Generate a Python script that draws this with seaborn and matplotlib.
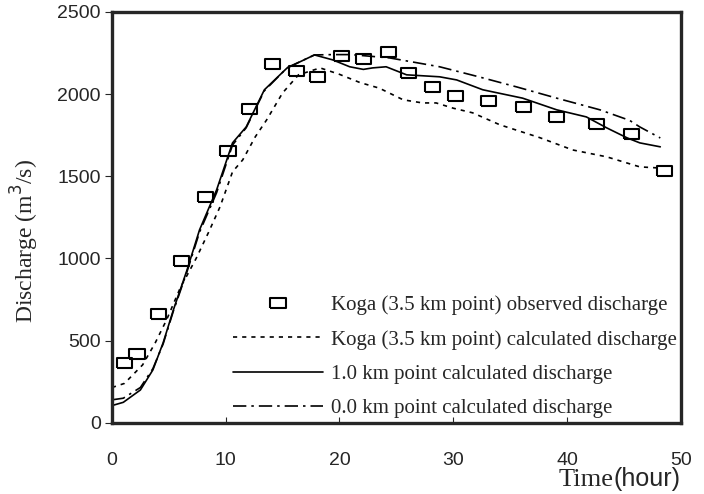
import numpy as np
import pandas as pd
import matplotlib
matplotlib.use("Agg")
import matplotlib.pyplot as plt
import seaborn as sns
from matplotlib.lines import Line2D

# observed discharge at Koga (3.5 km point)
obs_t = [1.1, 2.2, 4.1, 6.1, 8.2, 10.2, 12.1, 14.1, 16.2, 18.1, 20.2, 22.1,
         24.3, 26.1, 28.2, 30.2, 33.1, 36.2, 39.1, 42.6, 45.7, 48.6]
obs_q = [365, 420, 663, 985, 1375, 1655, 1910, 2183, 2140, 2105, 2233, 2214,
         2257, 2129, 2043, 1989, 1959, 1922, 1861, 1819, 1757, 1533]

# calculated discharge at Koga (3.5 km point)
koga_t = [0, 1.1, 2.7, 3.8, 4.8, 6.0, 7.4, 8.5, 9.5, 10.6, 11.5, 12.6, 13.6,
          15.0, 16.4, 18.3, 20.0, 21.8, 23.5, 25.6, 27.3, 28.5, 30.0, 31.7,
          34.1, 37.6, 40.5, 43.5, 46.4, 48.2]
koga_q = [215, 240, 353, 486, 626, 820, 1000, 1160, 1314, 1527, 1600, 1740,
          1843, 2007, 2117, 2159, 2120, 2070, 2036, 1965, 1946, 1946, 1914,
          1886, 1813, 1735, 1660, 1618, 1557, 1550]

# calculated discharge at 1.0 km point
km1_t = [0, 1.0, 2.5, 3.6, 4.5, 5.4, 6.6, 7.7, 9.2, 10.6, 11.8, 13.4, 15.4,
         17.8, 19.4, 20.9, 22.1, 22.9, 24.1, 25.9, 28.8, 30.3, 32.6, 36.1,
         39.1, 41.7, 43.5, 45.3, 46.4, 48.2]
km1_q = [105, 125, 200, 322, 487, 687, 930, 1174, 1417, 1703, 1800, 2026,
         2159, 2238, 2208, 2166, 2150, 2159, 2166, 2117, 2105, 2086, 2026,
         1975, 1904, 1861, 1794, 1733, 1703, 1679]

# calculated discharge at 0.0 km point
km0_t = [0, 1.0, 2.5, 3.6, 4.5, 5.4, 6.6, 7.7, 9.2, 10.6, 11.8, 13.4, 15.4,
         17.8, 19.4, 21.0, 24.4, 28.8, 32.3, 35.6, 39.1, 42.9, 45.5, 46.4, 48.2]
km0_q = [140, 150, 215, 330, 480, 680, 920, 1160, 1400, 1690, 1795, 2020,
         2160, 2238, 2240, 2240, 2220, 2166, 2104, 2043, 1975, 1904, 1840,
         1800, 1733]

labels = ["Koga (3.5 km point) observed discharge",
          "Koga (3.5 km point) calculated discharge",
          "1.0 km point calculated discharge",
          "0.0 km point calculated discharge"]

sns.set_style("ticks")
serif = ["Liberation Serif", "DejaVu Serif"]
sans = ["Liberation Sans", "DejaVu Sans"]
plt.rcParams["font.family"] = sans

fig = plt.figure(figsize=(7.04, 4.94), dpi=100)
ax = fig.add_axes([0.159, 0.144, 0.808, 0.832])

rect = [(-1.5, -1), (1.5, -1), (1.5, 1), (-1.5, 1), (-1.5, -1)]
lw = 1.2
dotted = (0, (2.5, 3.0))
dashdot = (0, (8, 3, 1.5, 3))

sns.lineplot(x=koga_t, y=koga_q, ax=ax, color="black", lw=lw,
             linestyle=dotted, sort=False)
sns.lineplot(x=km1_t, y=km1_q, ax=ax, color="black", lw=lw, sort=False)
sns.lineplot(x=km0_t, y=km0_q, ax=ax, color="black", lw=lw,
             linestyle=dashdot, sort=False)
sns.scatterplot(x=obs_t, y=obs_q, ax=ax, marker=rect, s=120,
                facecolor="none", edgecolor="black", linewidth=1.5, zorder=5)

ax.set_xlim(0, 50)
ax.set_ylim(0, 2500)
ax.set_xticks(range(0, 51, 10))
ax.set_yticks(range(0, 2501, 500))
ax.tick_params(axis="x", direction="in", length=4, pad=21, labelsize=14)
ax.tick_params(axis="y", direction="out", length=5, pad=3, labelsize=14)
for s in ax.spines.values():
    s.set_linewidth(2.4)
    s.set_visible(True)

ax.set_ylabel("Discharge (m$^3$/s)", family=serif, fontsize=17)
ax.yaxis.set_label_coords(-0.125, 0.443)

t_time = fig.text(0.793, 0.016, "Time", family=serif, fontsize=19,
                  va="baseline")
ax.annotate("(hour)", xy=(1, 0), xycoords=t_time, ha="left", va="bottom",
            family=sans, fontsize=18, annotation_clip=False)

handles = [
    Line2D([], [], ls="", marker=rect, ms=11, mfc="none", mec="black", mew=1.5),
    Line2D([], [], color="black", lw=lw, ls=dotted),
    Line2D([], [], color="black", lw=lw),
    Line2D([], [], color="black", lw=lw, ls=dashdot),
]
ax.legend(handles, labels, loc="upper left", bbox_to_anchor=(0.195, 0.335),
          frameon=False, prop={"family": serif, "size": 15},
          handlelength=4.3, handletextpad=0.4, labelspacing=0.7, borderpad=0)

fig.savefig("out.png", dpi=100)
